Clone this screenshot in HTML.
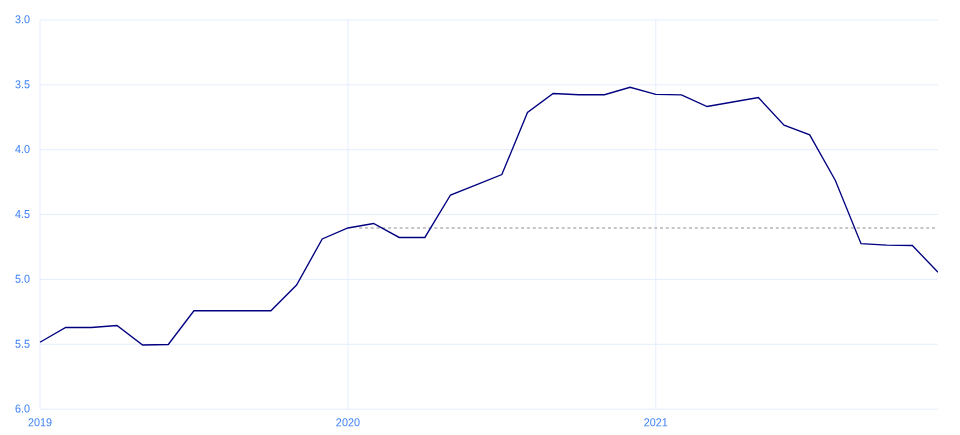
<!DOCTYPE html>
<html><head><meta charset="utf-8"><title>chart</title>
<style>
html,body{margin:0;padding:0;background:#fff;}
svg{display:block;}
text{font-family:"Liberation Sans",sans-serif;font-size:11.5px;fill:#3d81f4;}
</style></head><body>
<svg width="960" height="435" viewBox="0 0 960 435">
<rect width="960" height="435" fill="#ffffff"/>
<g stroke="#e5edfe" stroke-width="1" fill="none">
<line x1="40.0" y1="20.00" x2="938.0" y2="20.00"/>
<line x1="40.0" y1="84.86" x2="938.0" y2="84.86"/>
<line x1="40.0" y1="149.72" x2="938.0" y2="149.72"/>
<line x1="40.0" y1="214.57" x2="938.0" y2="214.57"/>
<line x1="40.0" y1="279.43" x2="938.0" y2="279.43"/>
<line x1="40.0" y1="344.29" x2="938.0" y2="344.29"/>
<line x1="40.0" y1="409.15" x2="938.0" y2="409.15"/>
<line x1="40.00" y1="20.0" x2="40.00" y2="409.15"/>
<line x1="347.89" y1="20.0" x2="347.89" y2="409.15"/>
<line x1="655.77" y1="20.0" x2="655.77" y2="409.15"/>
</g>
<line x1="359.12" y1="227.9" x2="935.2" y2="227.9" stroke="#b4b4b4" stroke-width="1.5" stroke-dasharray="3 2.787"/>
<svg x="0" y="0" width="938.0" height="435" overflow="hidden">
<polyline points="40.00,342.25 65.66,327.45 91.31,327.45 116.97,325.50 142.63,345.00 168.29,344.50 193.94,310.75 219.60,310.75 245.26,310.75 270.91,310.75 296.57,285.00 322.23,239.00 347.89,228.00 373.54,223.50 399.20,237.45 424.86,237.45 450.51,195.00 476.17,184.80 501.83,174.60 527.49,112.50 553.14,93.50 578.80,94.75 604.46,94.75 630.11,87.25 655.77,94.30 681.43,94.90 707.09,106.50 732.74,102.00 758.40,97.50 784.06,125.25 809.71,134.80 835.37,180.50 861.03,243.70 886.69,245.10 912.34,245.50 938.00,272.25" fill="none" stroke="#000080" stroke-width="1.35" stroke-linejoin="miter"/>
</svg>
<g>
<text transform="translate(30.1,23.35) rotate(0.03) scale(0.94,1)" text-anchor="end">3.0</text>
<text transform="translate(30.1,88.21) rotate(0.03) scale(0.94,1)" text-anchor="end">3.5</text>
<text transform="translate(30.1,153.07) rotate(0.03) scale(0.94,1)" text-anchor="end">4.0</text>
<text transform="translate(30.1,217.92) rotate(0.03) scale(0.94,1)" text-anchor="end">4.5</text>
<text transform="translate(30.1,282.78) rotate(0.03) scale(0.94,1)" text-anchor="end">5.0</text>
<text transform="translate(30.1,347.64) rotate(0.03) scale(0.94,1)" text-anchor="end">5.5</text>
<text transform="translate(30.1,412.50) rotate(0.03) scale(0.94,1)" text-anchor="end">6.0</text>
<text transform="translate(40.00,426.3) rotate(0.03) scale(0.94,1)" text-anchor="middle">2019</text>
<text transform="translate(347.89,426.3) rotate(0.03) scale(0.94,1)" text-anchor="middle">2020</text>
<text transform="translate(655.77,426.3) rotate(0.03) scale(0.94,1)" text-anchor="middle">2021</text>
</g>
</svg>
</body></html>
